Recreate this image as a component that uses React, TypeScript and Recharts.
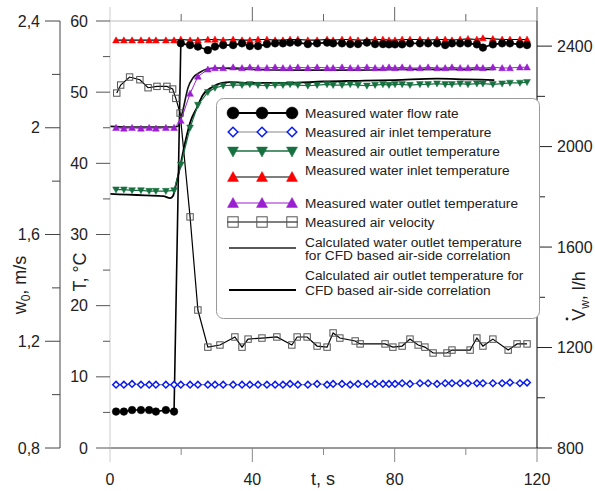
import React from 'react';
import { ComposedChart, Line, XAxis, YAxis } from 'recharts';

const tMeas = [1.7, 3.9, 6.2, 8.7, 11.0, 12.9, 15.7, 18.0, 19.9, 22.5, 24.7, 27.5, 29.5, 31.8, 34.6, 37.1, 39.3, 41.6, 44.1, 46.4, 48.6, 50.6, 52.8, 55.6, 58.2, 61.0, 62.7, 65.2, 67.5, 69.7, 72.2, 74.5, 76.7, 78.4, 80.1, 82.1, 84.3, 87.1, 89.4, 91.9, 94.2, 96.1, 98.4, 100.6, 103.1, 104.8, 107.6, 110.2, 112.4, 115.2, 117.2];

const waterFlow = [945, 945, 951, 951, 951, 945, 951, 945,
  2411, 2404, 2398, 2384, 2398,
  2404, 2404, 2411, 2400, 2400, 2408, 2411, 2411, 2414, 2414,
  2408, 2411, 2414, 2411, 2411, 2408, 2408, 2414, 2408, 2408,
  2407, 2407, 2407, 2411, 2411, 2411, 2411, 2404, 2411, 2411,
  2411, 2407, 2394, 2407, 2411, 2411, 2407, 2404];

const waterInlet = [57.3, 57.3, 57.3, 57.3, 57.3, 57.3, 57.3, 57.3,
  57.4, 57.3, 57.3, 57.4, 57.4,
  57.3, 57.4, 57.3, 57.3, 57.4, 57.4, 57.3, 57.3, 57.4, 57.4,
  57.3, 57.3, 57.4, 57.3, 57.4, 57.4, 57.3, 57.3, 57.4, 57.4,
  57.3, 57.3, 57.4, 57.4, 57.4, 57.3, 57.4, 57.4, 57.3, 57.4,
  57.5, 57.4, 57.6, 57.5, 57.4, 57.4, 57.4, 57.4];

const waterOutlet = [45.0, 44.9, 45.0, 44.9, 45.0, 44.9, 45.0, 45.0,
  46.0, 49.8, 52.2, 53.2, 53.4,
  53.4, 53.5, 53.4, 53.5, 53.4, 53.4, 53.5, 53.4, 53.4, 53.5,
  53.4, 53.5, 53.4, 53.4, 53.5, 53.4, 53.4, 53.5, 53.4, 53.4,
  53.5, 53.4, 53.5, 53.4, 53.4, 53.5, 53.4, 53.4, 53.5, 53.4,
  53.4, 53.5, 53.4, 53.5, 53.4, 53.4, 53.5, 53.5];

const airOutlet = [36.3, 36.3, 36.2, 36.2, 36.1, 36.1, 36.1, 36.2,
  39.8, 45.0, 48.2, 50.0, 50.6,
  50.9, 51.0, 51.0, 51.1, 51.0, 50.9, 51.0, 51.0, 51.1, 51.0,
  50.9, 51.0, 51.1, 51.0, 51.0, 51.1, 51.0, 50.9, 51.0, 51.1,
  51.0, 51.1, 51.1, 51.0, 51.1, 51.1, 51.2, 51.1, 51.1, 51.2,
  51.1, 51.2, 51.2, 51.1, 51.2, 51.3, 51.3, 51.4];

const airInlet = [8.9, 8.9, 9.0, 8.9, 8.9, 8.9, 8.9, 8.9,
  8.9, 8.9, 8.9, 8.9, 8.9,
  8.9, 8.9, 8.9, 8.9, 8.9, 8.9, 8.9, 8.9, 9.0, 8.9,
  8.9, 9.0, 8.9, 9.0, 9.0, 8.9, 9.0, 9.0, 9.0, 9.0,
  9.0, 9.0, 9.1, 9.0, 9.1, 9.1, 9.0, 9.1, 9.1, 9.1,
  9.1, 9.1, 9.1, 9.1, 9.1, 9.2, 9.1, 9.2];

const tVel = [1.9, 3.0, 5.5, 8.4, 10.7, 13.2, 16.0, 17.6, 18.5, 19.7, 22.5, 24.7, 27.5, 30.9, 35.1, 37.1, 38.8, 42.7, 46.9, 51.1, 52.6, 55.4, 58.2, 61.0, 62.7, 64.6, 68.9, 70.3, 77.3, 79.5, 82.1, 84.3, 86.6, 88.5, 90.8, 94.7, 96.1, 101.2, 103.1, 104.8, 107.6, 111.9, 114.4, 117.2];
const airVelocity = [2.13, 2.16, 2.19, 2.18, 2.15, 2.155, 2.155, 2.145, 2.11, 2.055,
  1.666, 1.317, 1.178, 1.186, 1.216, 1.178, 1.208, 1.212, 1.216, 1.186,
  1.216, 1.216, 1.182, 1.178, 1.231, 1.212, 1.201, 1.19, 1.19, 1.178,
  1.182, 1.208, 1.186, 1.178, 1.156, 1.156, 1.167, 1.167, 1.212, 1.182,
  1.208, 1.167, 1.19, 1.19];

const tCalcWater = [0, 5, 10, 15, 18.0, 19.1, 20.5, 21.9, 23.3, 25.3, 27.5, 30, 35, 40, 50, 60, 70, 80, 90, 100, 108];
const calcWaterOutlet = [45.2, 45.1, 45.1, 45.1, 45.1, 45.2, 47.5, 50.6, 52.0, 52.8, 53.3, 53.4, 53.3, 53.2, 53.1, 53.1, 53.1, 53.2, 53.2, 53.2, 53.2];

const tCalcAir = [0, 5, 10, 15, 16.9, 17.7, 18.3, 19.7, 21.1, 22.5, 24.5, 26.1, 28.7, 31.5, 33.7, 40, 50, 60, 70, 80, 92, 100, 108];
const calcAirOutlet = [35.7, 35.6, 35.5, 35.4, 35.1, 35.4, 36.5, 39.5, 42.9, 45.7, 47.9, 49.6, 50.7, 51.3, 51.4, 51.3, 51.3, 51.5, 51.6, 51.7, 51.9, 51.8, 51.7];

const xMajor = [0, 40, 80, 120];
const xMinor = [20, 60, 100];
const tMajor = [0, 10, 20, 30, 40, 50, 60];
const tMinor = [5, 15, 25, 35, 45, 55];
const wMajor = [0.8, 1.2, 1.6, 2.0, 2.4];
const wMinor = [1.0, 1.4, 1.8, 2.2];
const vMajor = [800, 1200, 1600, 2000, 2400];
const vMinor = [1000, 1400, 1800, 2200];

const legendLabels = [
  ['Measured water flow rate'],
  ['Measured air inlet temperature'],
  ['Measured air outlet temperature'],
  ['Measured water inlet temperature'],
  ['Measured water outlet temperature'],
  ['Measured air velocity'],
  ['Calculated water outlet temperature', 'for CFD based air-side correlation'],
  ['Calculated air outlet temperature for', 'CFD based air-side correlation'],
];

const FONT = '"Liberation Sans", Arial, sans-serif';
const GREEN = '#17703f';
const PURPLE = '#9a1fd0';
const BLUE = '#0a1cf0';
const RED = '#ff0000';

const zip = (ts: number[], vs: number[]) => ts.map((t, i) => ({ t, v: vs[i] }));
const isIn = (arr: number[], v: number) => arr.some((m) => Math.abs(m - v) < 1e-6);
const sorted = (a: number[], b: number[]) => [...a, ...b].sort((p, q) => p - q);

// ---------- marker shapes ----------
const circleShape = (cx: number, cy: number, r: number, key?: any) => (
  <circle key={key} cx={cx} cy={cy} r={r} fill="#000" stroke="#000" strokeWidth={0.5} />
);
const diamondShape = (cx: number, cy: number, s: number, key?: any) => (
  <path key={key} d={`M${cx},${cy - s}L${cx + s},${cy}L${cx},${cy + s}L${cx - s},${cy}Z`} fill="#fff" stroke={BLUE} strokeWidth={1.5} />
);
const triUpShape = (cx: number, cy: number, s: number, color: string, key?: any) => (
  <path key={key} d={`M${cx},${cy - s}L${cx + s},${cy + s * 0.8}L${cx - s},${cy + s * 0.8}Z`} fill={color} stroke={color} strokeWidth={0.5} />
);
const triDownShape = (cx: number, cy: number, s: number, color: string, key?: any) => (
  <path key={key} d={`M${cx},${cy + s}L${cx + s},${cy - s * 0.8}L${cx - s},${cy - s * 0.8}Z`} fill={color} stroke={color} strokeWidth={0.5} />
);
const squareShape = (cx: number, cy: number, s: number, key?: any) => (
  <rect key={key} x={cx - s} y={cy - s} width={2 * s} height={2 * s} fill="none" stroke="#555" strokeWidth={1} />
);

const CircleDot = (p: any) => circleShape(p.cx, p.cy, 3.8, `c${p.index}`);
const DiamondDot = (p: any) => diamondShape(p.cx, p.cy, 3.3, `d${p.index}`);
const RedDot = (p: any) => triUpShape(p.cx, p.cy, 3.4, RED, `r${p.index}`);
const PurpleDot = (p: any) => triUpShape(p.cx, p.cy, 3.4, PURPLE, `p${p.index}`);
const GreenDot = (p: any) => triDownShape(p.cx, p.cy, 3.4, GREEN, `g${p.index}`);
const SquareDot = (p: any) => squareShape(p.cx, p.cy, 3.2, `s${p.index}`);

// ---------- ticks ----------
const TTick = (props: any) => {
  const { x, y, payload } = props;
  const v = payload.value;
  const major = isIn(tMajor, v);
  return (
    <g>
      <line x1={x - (major ? 14 : 7)} x2={x} y1={y} y2={y} stroke="#555" strokeWidth={1} />
      {major && (
        <text x={x - 22} y={y} dy={5.6} textAnchor="end" fontSize={16} fontFamily={FONT} fill="#222">{v}</text>
      )}
    </g>
  );
};

const WTick = (props: any) => {
  const { x, y, payload } = props;
  const v = payload.value;
  const major = isIn(wMajor, v);
  const label = String(Math.round(v * 10) / 10).replace('.', ',');
  return (
    <g>
      <line x1={x - (major ? 15 : 8)} x2={x} y1={y} y2={y} stroke="#444" strokeWidth={1} />
      {major && (
        <text x={x - 20} y={y} dy={5.6} textAnchor="end" fontSize={16} fontFamily={FONT} fill="#222">{label}</text>
      )}
    </g>
  );
};

const VTick = (props: any) => {
  const { x, y, payload } = props;
  const v = payload.value;
  const major = isIn(vMajor, v);
  return (
    <g>
      <line x1={x} x2={x + (major ? 15 : 8)} y1={y} y2={y} stroke="#222" strokeWidth={1} />
      {major && (
        <text x={x + 20} y={y} dy={5.6} textAnchor="start" fontSize={16} fontFamily={FONT} fill="#222">{v}</text>
      )}
    </g>
  );
};

const TopTick = (props: any) => {
  const { x, y, payload } = props;
  const v = payload.value;
  const major = isIn(xMajor, v);
  return <line x1={x} x2={x} y1={y - (major ? 14 : 7)} y2={y} stroke={v === 0 ? '#ccc' : '#666'} strokeWidth={1} />;
};

const BottomTick = (props: any) => {
  const { x, y, payload } = props;
  const v = payload.value;
  const major = isIn(xMajor, v);
  return (
    <g>
      <line x1={x} x2={x} y1={y} y2={y + (major ? 14 : 7)} stroke={v === 0 ? '#ccc' : '#888'} strokeWidth={1} />
      {major && (
        <text x={x} y={y + 37} textAnchor="middle" fontSize={16} fontFamily={FONT} fill="#222">{v}</text>
      )}
    </g>
  );
};

// ---------- legend ----------
const LegendOverlay = () => {
  const mx = [233, 262, 292];
  const rows = [113, 132, 151, 177, 203, 222];
  const textY = [113, 132, 151, 170, 203, 222];
  const txt = (s: string, cy: number, k: string) => (
    <text key={k} x={305} y={cy + 4.9} fontSize={13.7} fontFamily={FONT} fill="#222">{s}</text>
  );
  return (
    <svg width={595} height={491} style={{ position: 'absolute', left: 0, top: 0, pointerEvents: 'none' }}>
      <rect x={216.5} y={98.5} width={323} height={220} rx={7} ry={7} fill="#fff" stroke="#999" strokeWidth={1} />
      {/* 1 water flow */}
      <line x1={mx[0]} x2={mx[2]} y1={rows[0]} y2={rows[0]} stroke="#000" strokeWidth={2} />
      {mx.map((x, i) => circleShape(x, rows[0], 6, `l1${i}`))}
      {/* 2 air inlet */}
      <line x1={mx[0]} x2={mx[2]} y1={rows[1]} y2={rows[1]} stroke="#888" strokeWidth={1.2} />
      {mx.map((x, i) => diamondShape(x, rows[1], 4.8, `l2${i}`))}
      {/* 3 air outlet */}
      <line x1={mx[0]} x2={mx[2]} y1={rows[2]} y2={rows[2]} stroke={GREEN} strokeWidth={1.5} />
      {mx.map((x, i) => triDownShape(x, rows[2] + 0.5, 5.5, GREEN, `l3${i}`))}
      {/* 4 water inlet */}
      <line x1={mx[0]} x2={mx[2]} y1={rows[3]} y2={rows[3]} stroke="#000" strokeWidth={1.2} />
      {mx.map((x, i) => triUpShape(x, rows[3], 5.5, RED, `l4${i}`))}
      {/* 5 water outlet */}
      <line x1={mx[0]} x2={mx[2]} y1={rows[4]} y2={rows[4]} stroke={PURPLE} strokeWidth={1.2} />
      {mx.map((x, i) => triUpShape(x, rows[4], 5.5, PURPLE, `l5${i}`))}
      {/* 6 air velocity */}
      <line x1={mx[0] - 6} x2={mx[2] + 6} y1={rows[5]} y2={rows[5]} stroke="#000" strokeWidth={1.2} />
      {mx.map((x, i) => squareShape(x, rows[5], 5.2, `l6${i}`))}
      {/* 7, 8 calculated */}
      <line x1={229} x2={296} y1={248} y2={248} stroke="#222" strokeWidth={1.5} />
      <line x1={229} x2={296} y1={290} y2={290} stroke="#000" strokeWidth={2} />
      {legendLabels.slice(0, 6).map((l, i) => txt(l[0], textY[i], `t${i}`))}
      {txt(legendLabels[6][0], 242, 't6a')}
      {txt(legendLabels[6][1], 255.5, 't6b')}
      {txt(legendLabels[7][0], 275, 't7a')}
      {txt(legendLabels[7][1], 290, 't7b')}
      {/* axis titles */}
      <text transform="translate(26,285) rotate(-90)" textAnchor="middle" fontSize={18} fontFamily={FONT} fill="#222">
        w<tspan fontSize={12} dy={4}>0</tspan><tspan dy={-4}>, m/s</tspan>
      </text>
      <text transform="translate(86,272) rotate(-90)" textAnchor="middle" fontSize={18} fontFamily={FONT} fill="#222">T, °C</text>
      <text transform="translate(585,296) rotate(-90)" textAnchor="middle" fontSize={18} fontFamily={FONT} fill="#222">
        V<tspan fontSize={12} dy={4}>w</tspan><tspan dy={-4}>, l/h</tspan>
      </text>
      <circle cx={567} cy={319} r={1.4} fill="#222" />
      <text x={323} y={485} textAnchor="middle" fontSize={18} fontFamily={FONT} fill="#222">t, s</text>
    </svg>
  );
};

export default function App() {
  return (
    <div style={{ position: 'absolute', left: 0, top: 0, width: 595, height: 491, background: '#fff' }}>
      <ComposedChart width={595} height={491} margin={{ top: 0, right: 0, bottom: 0, left: 0 }}>
        <XAxis xAxisId="top" orientation="top" type="number" dataKey="t" domain={[0, 120]} ticks={sorted(xMajor, xMinor)} interval={0}
          height={21} axisLine={{ stroke: '#bbb' }} tickLine={false} tickSize={0} tickMargin={0} tick={TopTick} allowDataOverflow />
        <XAxis xAxisId="b" orientation="bottom" type="number" dataKey="t" domain={[0, 120]} ticks={sorted(xMajor, xMinor)} interval={0}
          height={43} axisLine={{ stroke: '#333' }} tickLine={false} tickSize={0} tickMargin={0} tick={BottomTick} allowDataOverflow />
        <YAxis yAxisId="T" orientation="left" type="number" width={50} domain={[0, 60]} ticks={sorted(tMajor, tMinor)} interval={0}
          axisLine={{ stroke: '#ccc' }} tickLine={false} tickSize={0} tickMargin={0} tick={TTick} allowDataOverflow />
        <YAxis yAxisId="w" orientation="left" type="number" width={60} domain={[0.8, 2.4]} ticks={sorted(wMajor, wMinor)} interval={0}
          axisLine={{ stroke: '#444' }} tickLine={false} tickSize={0} tickMargin={0} tick={WTick} allowDataOverflow />
        <YAxis yAxisId="V" orientation="right" type="number" width={58} domain={[800, 2500]} ticks={sorted(vMajor, vMinor)} interval={0}
          axisLine={{ stroke: '#000' }} tickLine={false} tickSize={0} tickMargin={0} tick={VTick} allowDataOverflow />

        <Line xAxisId="b" yAxisId="T" data={zip(tCalcAir, calcAirOutlet)} dataKey="v" type="monotone" stroke="#000" strokeWidth={1.8} dot={false} isAnimationActive={false} />
        <Line xAxisId="b" yAxisId="T" data={zip(tCalcWater, calcWaterOutlet)} dataKey="v" type="monotone" stroke="#111" strokeWidth={1.6} dot={false} isAnimationActive={false} />
        <Line xAxisId="b" yAxisId="w" data={zip(tVel, airVelocity)} dataKey="v" type="linear" stroke="#000" strokeWidth={1.2} dot={SquareDot} isAnimationActive={false} />
        <Line xAxisId="b" yAxisId="T" data={zip(tMeas, airInlet)} dataKey="v" type="linear" stroke="#888" strokeWidth={1.2} dot={DiamondDot} isAnimationActive={false} />
        <Line xAxisId="b" yAxisId="T" data={zip(tMeas, airOutlet)} dataKey="v" type="linear" stroke={GREEN} strokeWidth={1.2} dot={GreenDot} isAnimationActive={false} />
        <Line xAxisId="b" yAxisId="T" data={zip(tMeas, waterOutlet)} dataKey="v" type="linear" stroke={PURPLE} strokeWidth={1} dot={PurpleDot} isAnimationActive={false} />
        <Line xAxisId="b" yAxisId="T" data={zip(tMeas, waterInlet)} dataKey="v" type="linear" stroke="#000" strokeWidth={1.2} dot={RedDot} isAnimationActive={false} />
        <Line xAxisId="b" yAxisId="V" data={zip(tMeas, waterFlow)} dataKey="v" type="linear" stroke="#000" strokeWidth={1.6} dot={CircleDot} isAnimationActive={false} />
      </ComposedChart>
      <LegendOverlay />
    </div>
  );
}
